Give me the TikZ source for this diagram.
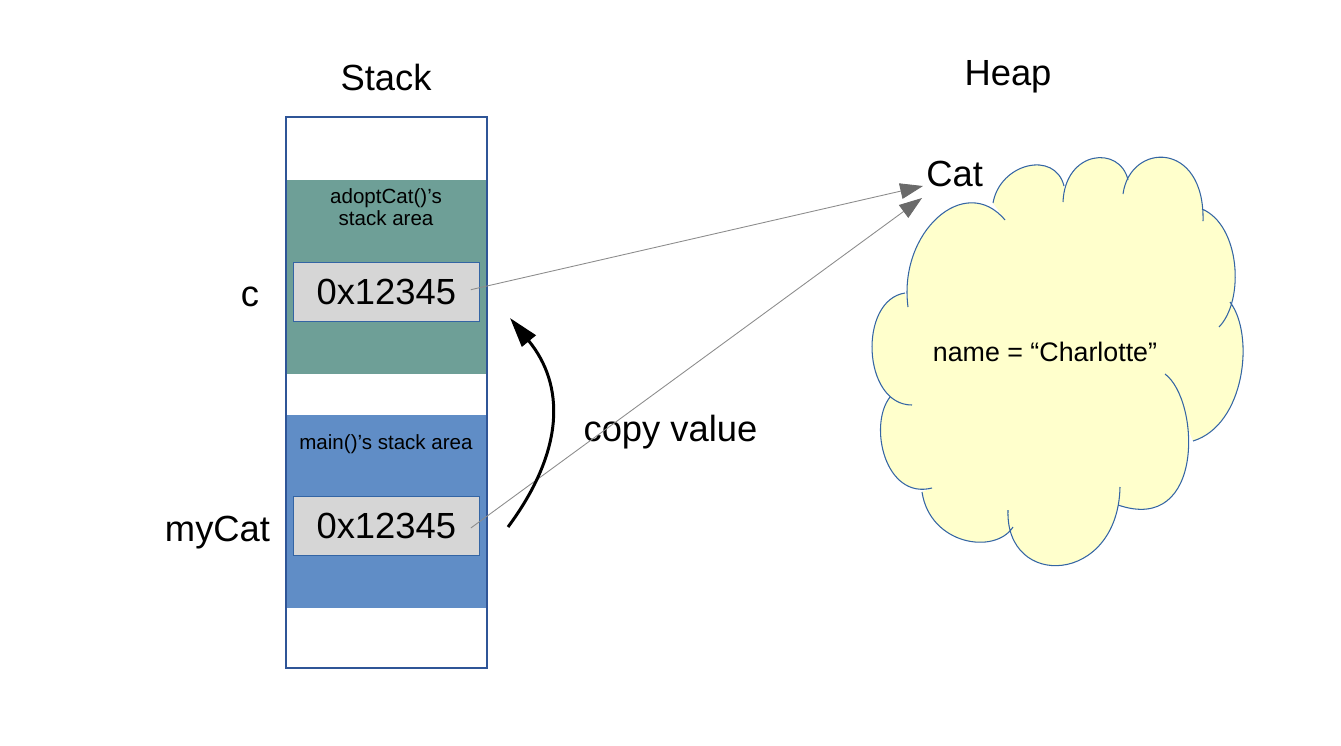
\documentclass[tikz,border=0pt]{standalone}
\usepackage{fontspec}
\setmainfont{Liberation Sans}
\usetikzlibrary{arrows.meta,calc}
\definecolor{stackborder}{HTML}{2F5597}
\definecolor{frameA}{HTML}{6E9F97}
\definecolor{frameB}{HTML}{608DC6}
\definecolor{valfill}{HTML}{D6D6D6}
\definecolor{valline}{HTML}{3465A4}
\definecolor{cloudfill}{HTML}{FFFFCC}
\definecolor{cloudline}{HTML}{3465A4}
\definecolor{ptrline}{HTML}{8C8C8C}
\definecolor{ptrhead}{HTML}{6A6A6A}
\begin{document}
\begin{tikzpicture}[x=0.02cm,y=-0.02cm,
  big/.style={font=\fontsize{20.7}{24}\selectfont, inner sep=0pt},
  small/.style={font=\fontsize{11.7}{12.7}\selectfont, inner sep=0pt, align=center},
  region/.style={inner sep=0pt, minimum width=4cm},
  valbox/.style={draw=valline, line width=0.6pt, fill=valfill, minimum width=3.72cm, minimum height=1.18cm, inner sep=0pt, font=\fontsize{20.7}{24}\selectfont},
  ptr/.style={draw=ptrline, line width=0.5pt, -{Triangle[length=13pt,width=9pt,color=ptrhead]}},
  copyarrow/.style={line width=1.7pt, -{Triangle[length=17pt,width=10pt]}},
  cloudstroke/.style={draw=cloudline, line width=0.6pt},
]
\useasboundingbox (0,0) rectangle (1341,745);

% stack
\node[region, fill=white, minimum width=4.02cm, minimum height=11.02cm] (stack) at (386.5,392.5) {};
\node[region, fill=frameA, minimum height=3.88cm] (adoptarea) at (386.5,277) {};
\node[region, fill=frameB, minimum height=3.86cm] (mainarea) at (386.5,511.5) {};
\draw[stackborder, line width=1.3pt] (stack.north west) rectangle (stack.south east);

\node[valbox] (cval) at (386.3,291.7) {0x12345};
\node[valbox] (mycatval) at (386.3,526) {0x12345};

\node[small] (adoptlabel) at (386,207) {adoptCat()’s\\stack area};
\node[small, anchor=base] (mainlabel) at (386,449.3) {main()’s stack area};

% cloud
\fill[cloudfill] (908,307) .. controls (898,232) and (965,172) .. (1005,220)
 -- (993,203) .. controls (1000,163) and (1055,150) .. (1064,186)
 -- (1063,202) .. controls (1065,150) and (1120,145) .. (1128,180)
 -- (1123,194) .. controls (1130,142) and (1205,140) .. (1203,221)
 -- (1202,209) .. controls (1240,225) and (1245,300) .. (1219,327)
 -- (1230,302) .. controls (1255,335) and (1245,425) .. (1193,441)
 -- (1165,374) .. controls (1200,400) and (1205,535) .. (1118,505)
 -- (1120,487) .. controls (1118,585) and (1005,590) .. (1008,510)
 -- (1013,527) .. controls (995,555) and (930,545) .. (922,492)
 -- (932,488) .. controls (885,500) and (868,425) .. (890,397)
 -- (912,405) .. controls (862,405) and (858,300) .. (905,293) -- cycle;
\draw[cloudstroke] (908,307) .. controls (898,232) and (965,172) .. (1005,220)
 (993,203) .. controls (1000,163) and (1055,150) .. (1064,186)
 (1063,202) .. controls (1065,150) and (1120,145) .. (1128,180)
 (1123,194) .. controls (1130,142) and (1205,140) .. (1203,221)
 (1202,209) .. controls (1240,225) and (1245,300) .. (1219,327)
 (1230,302) .. controls (1255,335) and (1245,425) .. (1193,441)
 (1165,374) .. controls (1200,400) and (1205,535) .. (1118,505)
 (1120,487) .. controls (1118,585) and (1005,590) .. (1008,510)
 (1013,527) .. controls (995,555) and (930,545) .. (922,492)
 (932,488) .. controls (885,500) and (868,425) .. (890,397)
 (912,405) .. controls (862,405) and (858,300) .. (905,293);

\node[font=\fontsize{15.25}{18}\selectfont, inner sep=0pt, anchor=base] (namelabel) at (1045,361.7) {name = “Charlotte”};

% labels
\node[big, anchor=base] (stacklabel) at (386,90.5) {Stack};
\node[big, anchor=base] (heaplabel) at (1008,85) {Heap};
\node[big, anchor=base] (clabel) at (250,306) {c};
\node[big, anchor=base] (mycatlabel) at (217.5,541.7) {myCat};
\node[big, anchor=base] (copylabel) at (670.5,441) {copy value};
\node[big, anchor=base west] (catlabel) at (926,186) {Cat};

% pointers
\coordinate (tipA) at (923,186);
\coordinate (tipB) at (922,198);
\draw[ptr] ($(cval.east)+(-9,-2)$) -- (tipA);
\draw[ptr] ($(mycatval.east)+(-9,2)$) -- (tipB);

% copy arrow
\coordinate (copystart) at (508,527);
\coordinate (copyend) at (510,318);
\draw[copyarrow] (copystart) .. controls (565,450) and (565,385) .. (copyend);
\end{tikzpicture}
\end{document}
